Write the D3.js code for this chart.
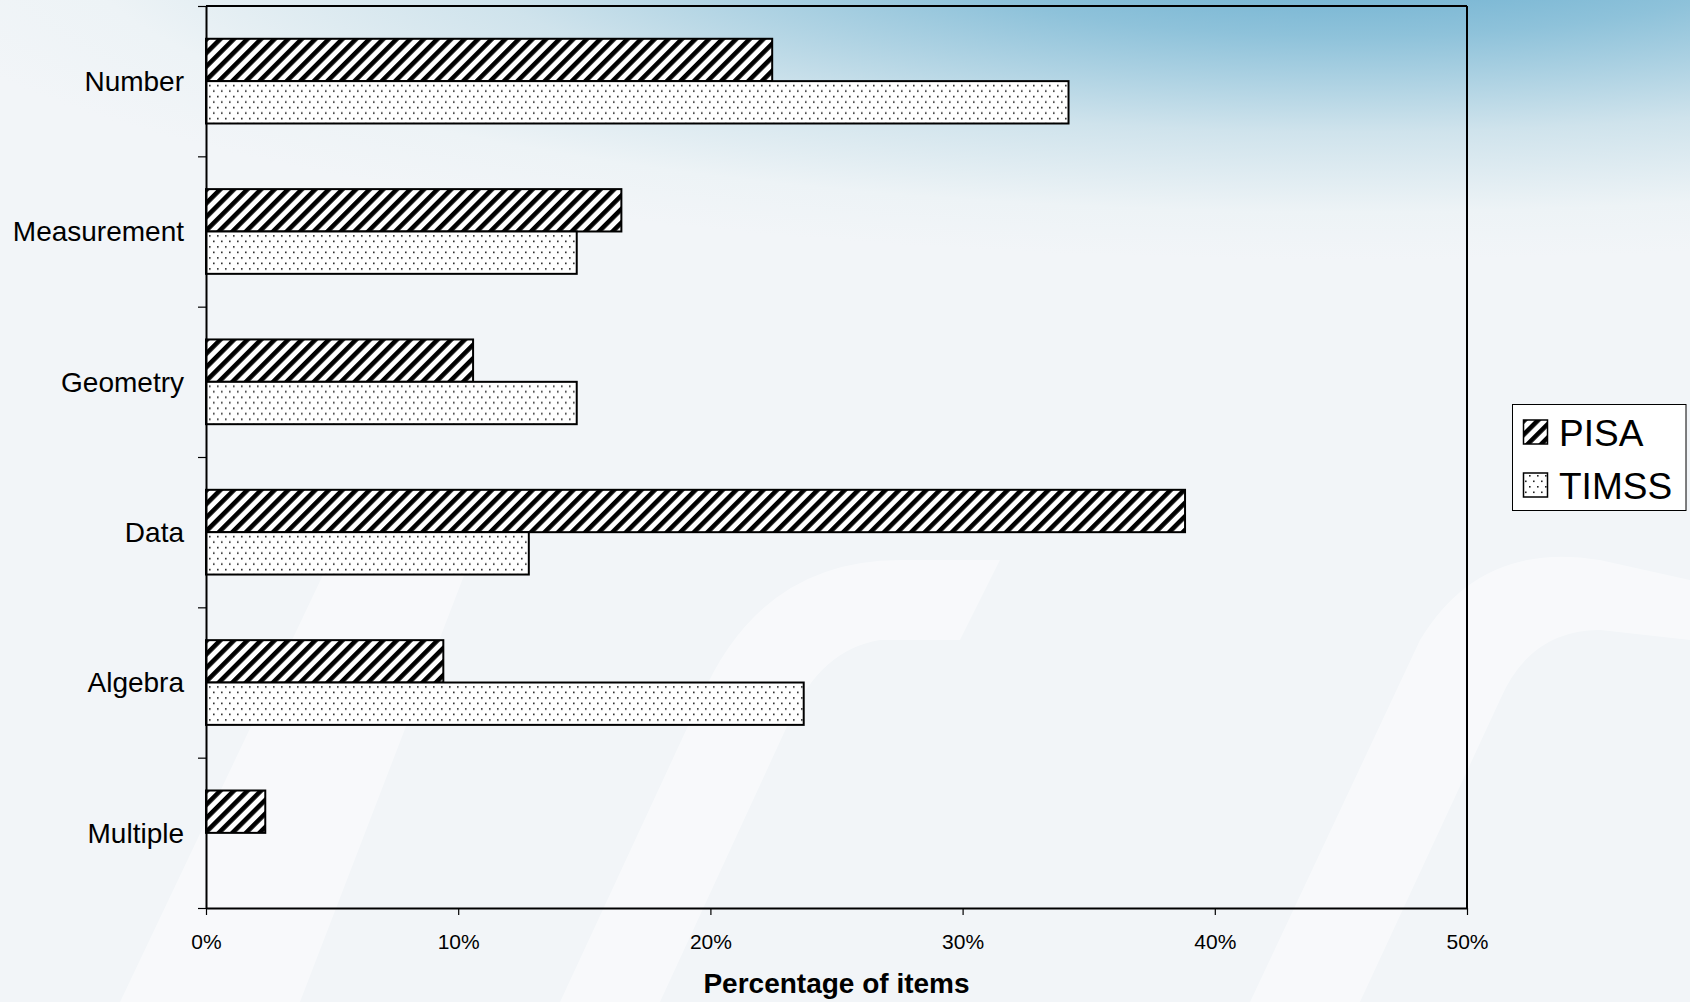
<!DOCTYPE html>
<html>
<head>
<meta charset="utf-8">
<script src="https://cdn.jsdelivr.net/npm/d3@7"></script>
<style>
  html, body { margin: 0; padding: 0; }
  body { width: 1690px; height: 1002px; overflow: hidden; background: #f2f5f8; }
  svg text { font-family: "Liberation Sans", Arial, sans-serif; fill: #000; }
</style>
</head>
<body>
<svg id="chart" width="1690" height="1002"></svg>
<script>
// ---- data ----
const categories = ["Number", "Measurement", "Geometry", "Data", "Algebra", "Multiple"];
const seriesNames = ["PISA", "TIMSS"];
const pisaValues  = [0.2245, 0.1647, 0.1059, 0.3882, 0.0941, 0.0235];
const timssValues = [0.342, 0.147, 0.147, 0.128, 0.237, 0];
const xTicks = [0, 0.1, 0.2, 0.3, 0.4, 0.5];
const xAxisTitle = "Percentage of items";

// ---- layout ----
const W = 1690, H = 1002;
const plot = { left: 206, right: 1467, top: 6, bottom: 908 };

const svg = d3.select("#chart");
const defs = svg.append("defs");

// background gradient
const bg = defs.append("radialGradient")
  .attr("id", "bgGrad").attr("gradientUnits", "userSpaceOnUse")
  .attr("cx", 1350).attr("cy", -60).attr("r", 1000)
  .attr("gradientTransform", "translate(1350,-60) scale(1.5,0.32) translate(-1350,60)");
bg.append("stop").attr("offset", "0").attr("stop-color", "#5fa8cc");
bg.append("stop").attr("offset", "0.3").attr("stop-color", "#8ec2da");
bg.append("stop").attr("offset", "0.6").attr("stop-color", "#cfe3ec");
bg.append("stop").attr("offset", "0.85").attr("stop-color", "#edf3f6");
bg.append("stop").attr("offset", "1").attr("stop-color", "#f2f5f8");
svg.append("rect").attr("width", W).attr("height", H).attr("fill", "#f2f5f8");
svg.append("rect").attr("width", W).attr("height", H).attr("fill", "url(#bgGrad)");

// faint watermark strokes
const wm = svg.append("g").attr("fill", "#ffffff").attr("opacity", 0.45);
wm.append("path").attr("d", "M120,1002 L330,560 Q380,470 470,560 L300,1002 Z");
wm.append("path").attr("d", "M560,1002 L700,700 Q760,560 900,560 L1000,560 L960,640 L880,640 Q820,650 790,720 L660,1002 Z");
wm.append("path").attr("d", "M1250,1002 L1420,640 Q1480,540 1600,560 L1690,580 L1690,640 L1600,630 Q1530,630 1500,700 L1360,1002 Z");

// patterns
const hatch = defs.append("pattern")
  .attr("id", "hatch").attr("patternUnits", "userSpaceOnUse")
  .attr("width", 9.6).attr("height", 9.6)
  .attr("patternTransform", "rotate(45)");
hatch.append("rect").attr("width", 9.6).attr("height", 9.6).attr("fill", "#fff");
hatch.append("rect").attr("x", 0).attr("y", 0).attr("width", 4.6).attr("height", 9.6).attr("fill", "#000");

const dots = defs.append("pattern")
  .attr("id", "dots").attr("patternUnits", "userSpaceOnUse")
  .attr("width", 8).attr("height", 11);
dots.append("rect").attr("width", 8).attr("height", 11).attr("fill", "#fff");
dots.append("rect").attr("x", 1).attr("y", 2).attr("width", 1.6).attr("height", 1.6).attr("fill", "#222");
dots.append("rect").attr("x", 5).attr("y", 7.5).attr("width", 1.6).attr("height", 1.6).attr("fill", "#222");

const fills = { PISA: "url(#hatch)", TIMSS: "url(#dots)" };
const valuesBySeries = { PISA: pisaValues, TIMSS: timssValues };

// ---- scales ----
const x = d3.scaleLinear().domain([0, 0.5]).range([plot.left, plot.right]);
const y = d3.scaleBand().domain(categories).range([plot.top, plot.bottom])
  .paddingInner(0.4365).paddingOuter(0.218);
const yInner = d3.scaleBand().domain(seriesNames).range([0, y.bandwidth()]);
const yBound = d3.scaleLinear().domain([0, categories.length]).range([plot.top, plot.bottom]);

// ---- bars ----
const rows = categories.map((c, i) => ({
  cat: c,
  vals: seriesNames.map(s => ({ s, v: valuesBySeries[s][i] }))
}));
const g = svg.append("g");
g.selectAll("g.cat").data(rows).join("g")
  .attr("class", "cat")
  .attr("transform", d => `translate(0,${y(d.cat)})`)
  .selectAll("rect").data(d => d.vals.filter(e => e.v > 0)).join("rect")
  .attr("x", x(0))
  .attr("y", d => yInner(d.s))
  .attr("width", d => x(d.v) - x(0))
  .attr("height", yInner.bandwidth())
  .attr("fill", d => fills[d.s])
  .attr("stroke", "#000").attr("stroke-width", 2);

// ---- frame (top and right) ----
svg.append("line").attr("x1", plot.left).attr("x2", plot.right).attr("y1", plot.top).attr("y2", plot.top)
  .attr("stroke", "#000").attr("stroke-width", 2);
svg.append("line").attr("x1", plot.right).attr("x2", plot.right).attr("y1", plot.top).attr("y2", plot.bottom)
  .attr("stroke", "#000").attr("stroke-width", 2);

// ---- x axis ----
const xAxis = svg.append("g").attr("transform", `translate(0,${plot.bottom})`)
  .call(d3.axisBottom(x).tickValues(xTicks).tickFormat(d3.format(".0%")).tickSize(7).tickSizeOuter(0).tickPadding(19));
xAxis.select(".domain").attr("stroke", "#000").attr("stroke-width", 2);
xAxis.selectAll(".tick line").attr("stroke", "#000").attr("stroke-width", 1.2);
xAxis.selectAll(".tick text").attr("font-size", 21).attr("font-family", "Liberation Sans, Arial, sans-serif");

// ---- y axis: boundary ticks ----
const yTickAxis = svg.append("g").attr("transform", `translate(${plot.left},0)`)
  .call(d3.axisLeft(yBound).tickValues(d3.range(0, categories.length + 1)).tickFormat("").tickSize(8).tickSizeOuter(0));
yTickAxis.select(".domain").attr("stroke", "#000").attr("stroke-width", 2);
yTickAxis.selectAll(".tick line").attr("stroke", "#000").attr("stroke-width", 1.2);

// ---- y axis: category labels ----
const yLabAxis = svg.append("g").attr("transform", `translate(${plot.left},0)`)
  .call(d3.axisLeft(y).tickSize(0).tickPadding(22));
yLabAxis.select(".domain").remove();
yLabAxis.selectAll(".tick text").attr("font-size", 28).attr("font-family", "Liberation Sans, Arial, sans-serif")
  .attr("dy", "0.35em");

// ---- axis title ----
svg.append("text")
  .attr("x", (plot.left + plot.right) / 2).attr("y", 993)
  .attr("text-anchor", "middle").attr("font-size", 28).attr("font-weight", "bold")
  .text(xAxisTitle);

// ---- legend ----
const lg = svg.append("g");
lg.append("rect").attr("x", 1512.5).attr("y", 404.5).attr("width", 173.5).attr("height", 106)
  .attr("fill", "#fff").attr("stroke", "#000").attr("stroke-width", 1);
const legendRows = [
  { s: "PISA", sy: 420, ty: 446 },
  { s: "TIMSS", sy: 473, ty: 499 }
];
lg.selectAll("rect.sw").data(legendRows).join("rect").attr("class", "sw")
  .attr("x", 1523.5).attr("y", d => d.sy).attr("width", 24).attr("height", 24)
  .attr("fill", d => fills[d.s]).attr("stroke", "#000").attr("stroke-width", 1.5);
lg.selectAll("text").data(legendRows).join("text")
  .attr("x", 1559).attr("y", d => d.ty).attr("font-size", 37)
  .text(d => d.s);
</script>
</body>
</html>
